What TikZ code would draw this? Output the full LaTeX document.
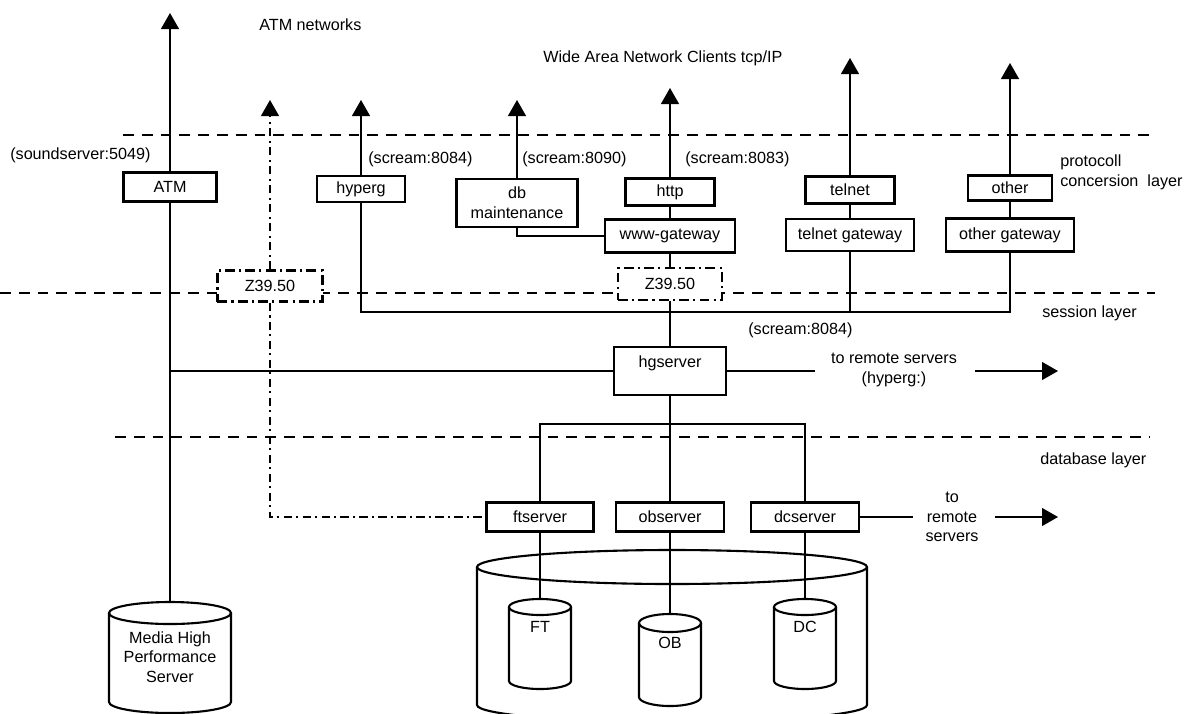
\documentclass[tikz,border=0pt]{standalone}
\usepackage{fontspec}
\setmainfont{Liberation Sans}
\usetikzlibrary{arrows.meta}

\begin{document}
\begin{tikzpicture}[x=0.025cm, y=-0.025cm,
	font=\fontsize{11.5}{14}\selectfont,
	box/.style={draw, fill=white, line width=1.8pt, inner sep=1pt, align=center},
	zbox/.style={draw, fill=white, line width=1.6pt, dash pattern=on 7pt off 3pt on 1.5pt off 3pt, inner sep=1pt},
	wire/.style={line width=0.8pt},
	arr/.style={wire, -{Triangle[length=0.4cm, width=0.45cm]}},
	dashdot/.style={wire, dash pattern=on 6pt off 3pt on 1.5pt off 3pt},
	layer/.style={line width=1pt, dash pattern=on 0.27cm off 0.2cm},
	lbl/.style={anchor=west, inner sep=0pt},
	cyl/.style={line width=1.5pt}]
	\clip (0,0) rectangle (1203,713);
	% layer borders
	\draw [layer] (123,135) -- (1155,135);
	\draw [layer] (0,293) -- (1155,293);
	\draw [layer] (115,437) -- (1150,437);
	\node [lbl] (protlayer) at (1060,172) [align=left] {protocoll\\concersion~ layer};
	\node [lbl] (sesslayer) at (1042,313) {session layer};
	\node [lbl] (dblayer) at (1040,460) {database layer};
	\node [lbl] (atmnet) at (259,25) {ATM networks};
	\node [lbl] (wan) at (543,58) {Wide Area Network Clients tcp/IP};
	% boxes
	\node [box, minimum width=2.33cm, minimum height=0.73cm] (atm) at (170,187) {ATM};
	\node [box, minimum width=2.2cm, minimum height=0.65cm] (hyperg) at (361,189) {hyperg};
	\node [box, minimum width=3.03cm, minimum height=1.2cm] (dbm) at (517,203) {db\\maintenance};
	\node [box, minimum width=2.23cm, minimum height=0.68cm] (http) at (670,192) {http};
	\node [box, minimum width=3.25cm, minimum height=0.83cm] (wwwgw) at (670,236) {www-gateway};
	\node [box, minimum width=2.23cm, minimum height=0.68cm] (telnet) at (850,190) {telnet};
	\node [box, minimum width=3.2cm, minimum height=0.8cm] (telgw) at (850,235) {telnet gateway};
	\node [box, minimum width=2.1cm, minimum height=0.63cm] (other) at (1010,188) {other};
	\node [box, minimum width=3.2cm, minimum height=0.83cm] (othergw) at (1010,235) {other gateway};
	\node [zbox, minimum width=2.63cm, minimum height=0.78cm] (zl) at (270,286) {Z39.50};
	\node [zbox, minimum width=2.6cm, minimum height=0.8cm] (zr) at (670,284) {Z39.50};
	\node [box, minimum width=2.8cm, minimum height=1.2cm] (hgserver) at (670,371) {hgserver\\\mbox{}};
	\node [box, minimum width=2.68cm, minimum height=0.73cm] (ftserver) at (540,517) {ftserver};
	\node [box, minimum width=2.7cm, minimum height=0.73cm] (observer) at (670,517) {observer};
	\node [box, minimum width=2.7cm, minimum height=0.73cm] (dcserver) at (805,517) {dcserver};
	% port labels
	\node [lbl] (lsound) at (10,155) {(soundserver:5049)};
	\node [lbl] (lhyperg) at (368,159) {(scream:8084)};
	\node [lbl] (ldbm) at (522,159) {(scream:8090)};
	\node [lbl] (lhttp) at (685,159) {(scream:8083)};
	\node [lbl] (lsess) at (748,330) {(scream:8084)};
	% cylinders
	\draw [cyl] (170,613) ellipse [x radius=61, y radius=11];
	\draw [cyl] (109,613) -- (109,702) arc [start angle=180, end angle=0, x radius=61, y radius=11] -- (231,613);
	\draw [cyl] (672,567) ellipse [x radius=195, y radius=17];
	\draw [cyl] (477,567) -- (477,705) arc [start angle=180, end angle=0, x radius=195, y radius=17] -- (867,567);
	\draw [cyl] (540,607) ellipse [x radius=31, y radius=8];
	\draw [cyl] (509,607) -- (509,681) arc [start angle=180, end angle=0, x radius=31, y radius=8] -- (571,607);
	\draw [cyl] (670,623) ellipse [x radius=31, y radius=9];
	\draw [cyl] (639,623) -- (639,697) arc [start angle=180, end angle=0, x radius=31, y radius=9] -- (701,623);
	\draw [cyl] (805,607) ellipse [x radius=31, y radius=8];
	\draw [cyl] (774,607) -- (774,681) arc [start angle=180, end angle=0, x radius=31, y radius=8] -- (836,607);
	\node [align=center] (media) at (170,657) {Media High\\Performance\\Server};
	\node (ft) at (540,627) {FT};
	\node (ob) at (670,643) {OB};
	\node (dc) at (805,627) {DC};
	% end points
	\coordinate (atmtip) at (170,13);
	\coordinate (zltip) at (270,100);
	\coordinate (hypergtip) at (361,100);
	\coordinate (dbtip) at (517,100);
	\coordinate (httptip) at (670,88);
	\coordinate (telnettip) at (850,58);
	\coordinate (othertip) at (1010,63);
	\coordinate (sessbus) at (1010,312);
	\coordinate (dbbus) at (670,424);
	\coordinate (mediatop) at (170,602);
	\coordinate (fttop) at (540,599);
	\coordinate (obtop) at (670,614);
	\coordinate (dctop) at (805,599);
	\coordinate (remA) at (815,371);
	\coordinate (remB) at (975,371);
	\coordinate (remC) at (1058,371);
	\coordinate (dbA) at (913,517);
	\coordinate (dbB) at (995,517);
	\coordinate (dbC) at (1058,517);
	\node [align=center] (remtxt) at (894,370) {to remote servers\\(hyperg:)};
	\node [align=center] (dbtxt) at (952,517) {to\\remote\\servers};
	% connectors
	\draw [arr] (atm.north) -- (atmtip);
	\draw [wire] (atm.south) -- (mediatop);
	\draw [wire] (hgserver.west) -- (hgserver.west -| atm.south);
	\draw [arr, dashdot] (zl.north) -- (zltip);
	\draw [dashdot] (zl.south) |- (ftserver.west);
	\draw [arr] (hyperg.north) -- (hypergtip);
	\draw [wire] (hyperg.south) |- (sessbus) -- (othergw.south);
	\draw [wire] (telgw.south) -- (telgw.south |- sessbus);
	\draw [arr] (dbm.north) -- (dbtip);
	\draw [wire] (dbm.south) |- (wwwgw.west);
	\draw [arr] (http.north) -- (httptip);
	\draw [wire] (http.south) -- (wwwgw.north);
	\draw [wire] (wwwgw.south) -- (zr.north);
	\draw [wire] (zr.south) -- (hgserver.north);
	\draw [arr] (telnet.north) -- (telnettip);
	\draw [wire] (telnet.south) -- (telgw.north);
	\draw [arr] (other.north) -- (othertip);
	\draw [wire] (other.south) -- (othergw.north);
	\draw [wire] (hgserver.east) -- (remA);
	\draw [arr] (remB) -- (remC);
	\draw [wire] (hgserver.south) -- (observer.north);
	\draw [wire] (ftserver.north) |- (dbbus) -| (dcserver.north);
	\draw [wire] (ftserver.south) -- (fttop);
	\draw [wire] (observer.south) -- (obtop);
	\draw [wire] (dcserver.south) -- (dctop);
	\draw [wire] (dcserver.east) -- (dbA);
	\draw [arr] (dbB) -- (dbC);
\end{tikzpicture}
\end{document}
